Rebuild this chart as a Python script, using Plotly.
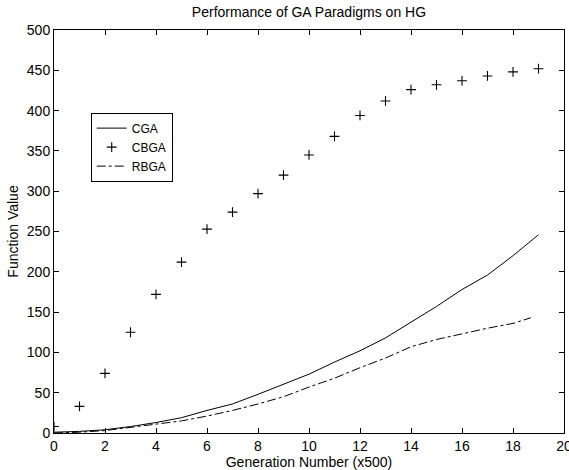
import plotly.graph_objects as go

cbga_x = list(range(0, 20))
cbga_y = [8, 33, 74, 125, 172, 212, 253, 274, 297, 320, 345, 368, 394, 412, 426, 432, 437, 443, 448, 452]

cga_x = list(range(0, 20))
cga_y = [1, 2, 4, 8, 13, 19, 28, 36, 48, 61, 73, 88, 102, 118, 137, 157, 178, 196, 220, 246]

rbga_x = [0, 1, 2, 3, 4, 5, 6, 7, 8, 9, 10, 11, 12, 13, 14, 15, 16, 17, 18, 18.7]
rbga_y = [0, 1, 3, 7, 11, 15, 21, 28, 36, 45, 57, 68, 81, 93, 107, 116, 123, 130, 136, 143]

x_ticks = list(range(0, 21, 2))
y_ticks = list(range(0, 501, 50))

FONT = "Liberation Sans, Arial, sans-serif"

fig = go.Figure()
fig.add_trace(go.Scatter(x=cga_x, y=cga_y, mode="lines", name="CGA",
                         line=dict(color="black", width=1)))
fig.add_trace(go.Scatter(x=cbga_x, y=cbga_y, mode="markers", name="CBGA",
                         marker=dict(symbol="cross-thin", size=7, color="black",
                                     line=dict(color="black", width=1.1))))
fig.add_trace(go.Scatter(x=rbga_x, y=rbga_y, mode="lines", name="RBGA",
                         line=dict(color="black", width=1, dash="dashdot")))

axis_common = dict(showline=True, linecolor="black", linewidth=1, mirror="ticks",
                   ticks="inside", ticklen=5, tickcolor="black", showgrid=False,
                   zeroline=False, automargin=False, ticklabeloverflow="allow",
                   tickfont=dict(size=14, color="black", family=FONT))

fig.update_xaxes(range=[0, 20], tickvals=x_ticks,
                 title=dict(text="Generation Number (x500)", standoff=3,
                            font=dict(size=14, color="black", family=FONT)),
                 **axis_common)
fig.update_yaxes(range=[0, 500], tickvals=y_ticks,
                 title=dict(text="Function Value", standoff=4,
                            font=dict(size=14, color="black", family=FONT)),
                 **axis_common)

fig.update_layout(
    width=569, height=470,
    margin=dict(l=54, r=5, t=30, b=37),
    paper_bgcolor="white", plot_bgcolor="white",
    font=dict(family=FONT, color="black", size=14),
    title=dict(text="Performance of GA Paradigms on HG", x=0.543, xanchor="center",
               y=1 - 12 / 470, yanchor="middle", yref="container",
               font=dict(size=14, color="black", family=FONT)),
    legend=dict(x=0.072, y=0.795, xanchor="left", yanchor="top",
                bordercolor="black", borderwidth=1, bgcolor="white",
                font=dict(size=12, color="black", family=FONT),
                tracegroupgap=0, itemwidth=30),
    showlegend=True,
)

fig.write_html("out.html", config={"displayModeBar": False},
               post_script="document.body.style.margin='0';")
